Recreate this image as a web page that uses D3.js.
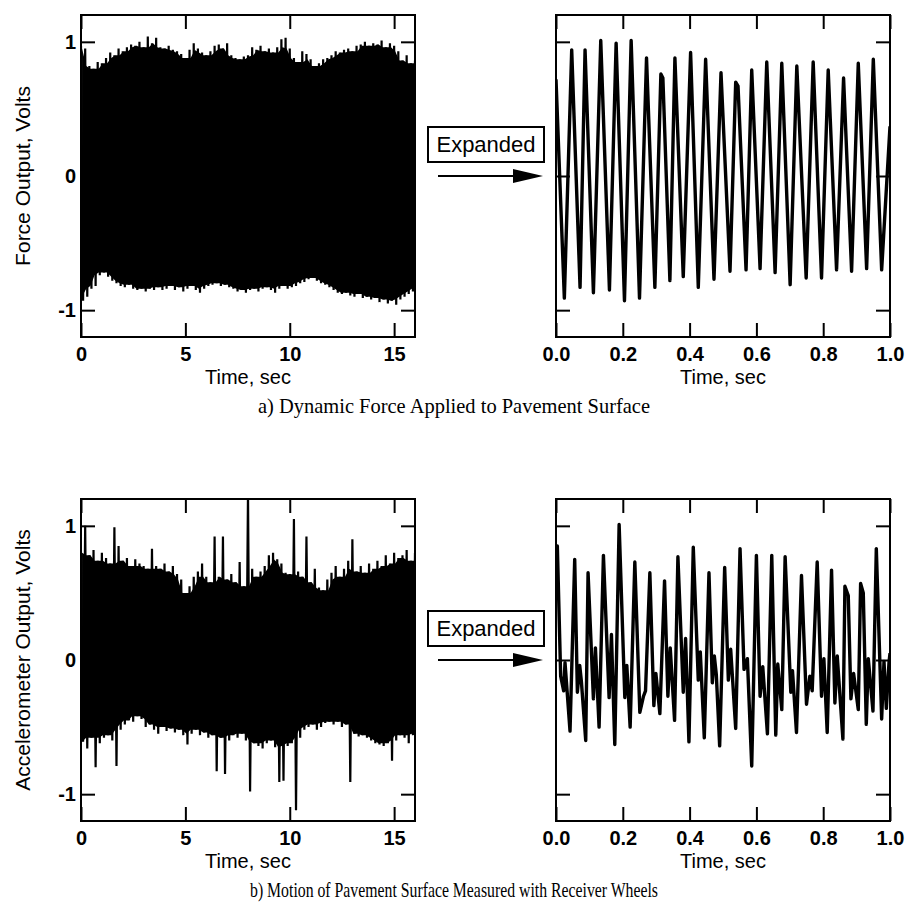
<!DOCTYPE html>
<html><head><meta charset="utf-8">
<script src="https://cdn.jsdelivr.net/npm/d3@7"></script>
<style>body{margin:0;background:#fff;} svg{display:block}</style>
</head><body><svg id="c" width="907" height="913"></svg>
<script>
// ---------- DATA ----------
// Panel a) left: envelope (max / min per 0.2 s bin) of the 16 s force record
const forceUpper = [0.97,0.95,0.82,0.80,0.85,0.84,0.88,0.92,0.90,0.95,
 0.93,0.96,0.98,0.97,1.00,0.96,1.04,0.99,1.03,0.96,
 0.95,0.97,0.94,0.93,0.91,0.88,0.94,0.99,0.95,0.92,
 0.90,0.93,0.97,0.98,0.95,0.99,0.90,0.88,0.87,0.89,
 0.90,0.96,0.94,0.97,0.93,0.95,0.92,0.96,1.02,1.03,
 0.95,0.88,0.85,0.93,0.91,0.87,0.82,0.84,0.87,0.88,
 0.90,0.93,0.92,0.94,0.95,0.93,0.97,0.98,1.00,0.97,
 0.99,0.98,1.01,0.96,0.99,0.97,0.93,0.86,0.90,0.84,
 0.86];
const forceLower = [-0.93,-0.90,-0.84,-0.82,-0.74,-0.72,-0.75,-0.78,-0.80,-0.82,
 -0.83,-0.81,-0.84,-0.85,-0.84,-0.86,-0.84,-0.85,-0.83,-0.85,
 -0.84,-0.82,-0.85,-0.83,-0.86,-0.84,-0.82,-0.85,-0.87,-0.84,
 -0.82,-0.81,-0.80,-0.82,-0.81,-0.83,-0.84,-0.86,-0.85,-0.87,
 -0.85,-0.84,-0.86,-0.84,-0.83,-0.85,-0.87,-0.84,-0.82,-0.84,
 -0.83,-0.82,-0.80,-0.79,-0.77,-0.76,-0.78,-0.80,-0.81,-0.83,
 -0.85,-0.87,-0.88,-0.87,-0.89,-0.90,-0.88,-0.91,-0.90,-0.92,
 -0.91,-0.94,-0.92,-0.95,-0.93,-0.96,-0.92,-0.90,-0.88,-0.86,
 -0.84];
// Panel a) right: expanded first second (peaks / troughs)
const forceExpT = [0.000,0.025,0.047,0.072,0.087,0.112,0.134,0.160,0.180,0.205,
 0.225,0.250,0.271,0.296,0.314,0.320,0.341,0.356,0.381,0.403,
 0.426,0.448,0.473,0.494,0.521,0.538,0.545,0.569,0.586,0.611,
 0.631,0.656,0.676,0.701,0.721,0.749,0.770,0.795,0.815,0.840,
 0.861,0.885,0.905,0.930,0.950,0.975,1.000];
const forceExpV = [0.72,-0.91,0.94,-0.83,0.94,-0.87,1.01,-0.85,0.99,-0.93,
 1.01,-0.91,0.88,-0.83,0.76,0.73,-0.78,0.88,-0.75,0.92,
 -0.83,0.87,-0.77,0.77,-0.71,0.70,0.67,-0.70,0.79,-0.69,
 0.85,-0.72,0.84,-0.81,0.82,-0.76,0.85,-0.76,0.79,-0.70,
 0.73,-0.71,0.84,-0.69,0.87,-0.70,0.37];
// Panel b) left: envelope of the 16 s accelerometer record
const accelUpper = [0.80,1.00,0.78,0.82,0.74,0.80,0.76,0.72,0.99,0.85,
 0.74,0.76,0.70,0.75,0.72,0.70,0.68,0.83,0.70,0.68,
 0.72,0.66,0.70,0.64,0.60,0.50,0.55,0.62,0.66,0.72,
 0.62,0.58,0.92,0.62,0.92,0.60,0.64,0.58,0.73,0.55,
 1.25,0.68,0.62,0.66,0.70,0.78,0.80,0.75,0.72,0.65,
 0.64,1.05,0.66,0.62,0.92,0.58,0.68,0.54,0.52,0.60,
 0.65,0.70,0.62,0.68,0.74,0.90,0.66,0.70,0.65,0.72,
 0.68,0.74,0.70,0.78,0.72,0.80,0.76,0.78,0.82,0.74,
 0.80];
const accelLower = [-0.61,-0.66,-0.58,-0.80,-0.62,-0.58,-0.56,-0.60,-0.79,-0.52,
 -0.48,-0.45,-0.46,-0.42,-0.44,-0.50,-0.48,-0.52,-0.55,-0.50,
 -0.53,-0.51,-0.54,-0.52,-0.56,-0.63,-0.55,-0.52,-0.56,-0.54,
 -0.58,-0.56,-0.83,-0.58,-0.85,-0.60,-0.56,-0.58,-0.55,-0.60,
 -0.98,-0.62,-0.64,-0.66,-0.62,-0.60,-0.65,-0.91,-0.90,-0.64,
 -0.62,-1.12,-0.58,-0.52,-0.50,-0.48,-0.52,-0.50,-0.47,-0.46,
 -0.48,-0.46,-0.50,-0.48,-0.91,-0.55,-0.57,-0.56,-0.58,-0.60,
 -0.62,-0.63,-0.64,-0.62,-0.75,-0.60,-0.56,-0.58,-0.62,-0.56,
 -0.55];
// Panel b) right: expanded first second
const accelExpT = [0.000,0.004,0.014,0.023,0.027,0.042,0.056,0.064,0.071,0.076,
 0.089,0.096,0.112,0.118,0.129,0.142,0.159,0.166,0.176,0.189,
 0.206,0.212,0.222,0.236,0.251,0.262,0.268,0.281,0.293,0.299,
 0.311,0.325,0.335,0.342,0.355,0.365,0.381,0.388,0.398,0.411,
 0.426,0.432,0.444,0.458,0.468,0.474,0.480,0.490,0.505,0.516,
 0.523,0.538,0.551,0.563,0.573,0.586,0.600,0.611,0.619,0.633,
 0.646,0.658,0.664,0.676,0.686,0.703,0.708,0.720,0.735,0.750,
 0.760,0.767,0.782,0.795,0.802,0.812,0.825,0.835,0.842,0.859,
 0.865,0.875,0.883,0.891,0.905,0.912,0.920,0.929,0.935,0.949,
 0.959,0.975,0.982,0.989,0.997,1.000];
const accelExpV = [0.60,0.85,-0.12,-0.23,-0.02,-0.53,0.75,-0.24,-0.04,-0.16,
 -0.60,0.65,-0.29,0.09,-0.50,0.78,-0.28,0.19,-0.63,1.01,
 -0.28,-0.04,-0.50,0.73,-0.39,-0.27,-0.23,0.65,-0.34,-0.10,
 -0.40,0.59,-0.27,0.09,-0.45,0.77,-0.24,0.16,-0.61,0.84,
 -0.15,0.06,-0.58,0.65,-0.17,0.03,-0.11,-0.64,0.69,-0.15,
 0.08,-0.51,0.83,-0.07,0.01,-0.79,0.78,-0.27,-0.05,-0.55,
 0.78,-0.56,-0.03,-0.37,0.77,-0.24,-0.08,-0.54,0.63,-0.33,
 -0.12,-0.23,0.73,-0.27,0.01,-0.54,0.67,-0.32,0.03,-0.59,
 0.55,0.48,-0.29,-0.10,-0.37,0.57,0.50,-0.48,0.01,-0.38,
 0.83,-0.44,-0.01,-0.36,-0.02,0.05];

// Ticks and labels
const longTicks = [0, 5, 10, 15];
const longTickLabels = ["0", "5", "10", "15"];
const expTicks = [0, 0.2, 0.4, 0.6, 0.8, 1.0];
const expTickLabels = ["0.0", "0.2", "0.4", "0.6", "0.8", "1.0"];
const yTicks = [-1, 0, 1];
const yTickLabels = ["-1", "0", "1"];
const xTitle = "Time, sec";
const yTitles = ["Force Output, Volts", "Accelerometer Output, Volts"];
const captions = ["a) Dynamic Force Applied to Pavement Surface",
                  "b) Motion of Pavement Surface Measured with Receiver Wheels"];
const boxLabel = "Expanded";

// ---------- DRAWING ----------
const svg = d3.select("#c");
const SANS = "'Liberation Sans', Arial, Helvetica, sans-serif";
const SERIF = "'Liberation Serif', 'Times New Roman', serif";

const colL = [81, 415], colR = [556, 890];
const rows = [[15, 337], [499, 821]];
const captionWidths = [392, 408];

function drawPanel(id, cols, rowY, xDomain, xTicks, xLabels, showYLabels, yTitle, drawData) {
  const x = d3.scaleLinear().domain(xDomain).range(cols);
  const y = d3.scaleLinear().domain([-1.2, 1.2]).range([rowY[1], rowY[0]]);
  const g = svg.append("g");
  svg.append("clipPath").attr("id", id).append("rect")
    .attr("x", cols[0]).attr("y", rowY[0])
    .attr("width", cols[1] - cols[0]).attr("height", rowY[1] - rowY[0]);
  const dg = g.append("g").attr("clip-path", `url(#${id})`);
  drawData(dg, x, y);

  const style = sel => {
    sel.select(".domain").remove();
    sel.selectAll(".tick line").attr("stroke", "#000").attr("stroke-width", 2);
    sel.selectAll(".tick text").attr("fill", "#000")
      .style("font-family", SANS).style("font-size", "20px").style("font-weight", "bold");
  };
  g.append("g").attr("transform", `translate(0,${rowY[1]})`)
    .call(d3.axisBottom(x).tickValues(xTicks).tickFormat((d, i) => xLabels[i])
      .tickSizeInner(-14).tickSizeOuter(0).tickPadding(10)).call(style);
  g.append("g").attr("transform", `translate(0,${rowY[0]})`)
    .call(d3.axisTop(x).tickValues(xTicks).tickFormat("")
      .tickSizeInner(-14).tickSizeOuter(0)).call(style);
  g.append("g").attr("transform", `translate(${cols[0]},0)`)
    .call(d3.axisLeft(y).tickValues(yTicks).tickFormat((d, i) => showYLabels ? yTickLabels[i] : "")
      .tickSizeInner(-14).tickSizeOuter(0).tickPadding(5)).call(style);
  g.append("g").attr("transform", `translate(${cols[1]},0)`)
    .call(d3.axisRight(y).tickValues(yTicks).tickFormat("")
      .tickSizeInner(-14).tickSizeOuter(0)).call(style);

  g.append("rect").attr("x", cols[0]).attr("y", rowY[0])
    .attr("width", cols[1] - cols[0]).attr("height", rowY[1] - rowY[0])
    .attr("fill", "none").attr("stroke", "#000").attr("stroke-width", 2);

  g.append("text").attr("x", (cols[0] + cols[1]) / 2).attr("y", rowY[1] + 47)
    .attr("text-anchor", "middle").style("font-family", SANS).style("font-size", "20px")
    .text(xTitle);
  if (yTitle) {
    const cy = y(0);
    g.append("text").attr("transform", `translate(23,${cy}) rotate(-90)`)
      .attr("text-anchor", "middle").attr("dy", "0.35em")
      .style("font-family", SANS).style("font-size", "21px").text(yTitle);
  }
  return {x, y};
}

function envelopeDrawer(upper, lower) {
  return (g, x, y) => {
    const n = upper.length;
    const step = 16 / (n - 1);
    // solid core: the lowest nearby maximum / highest nearby minimum
    const core = upper.map((u, i) => {
      const a = Math.max(0, i - 1), b = Math.min(n - 1, i + 1);
      return [i * step + step / 4,
              Math.min(upper[a], upper[i], upper[b]),
              Math.max(lower[a], lower[i], lower[b])];
    });
    g.append("path").datum(core)
      .attr("d", d3.area().x(d => x(d[0])).y0(d => y(d[2])).y1(d => y(d[1])))
      .attr("fill", "#000");
    const pts = [];
    upper.forEach((u, i) => {
      pts.push([i * step, u]);
      pts.push([i * step + step / 2, lower[i]]);
    });
    g.append("path").datum(pts)
      .attr("d", d3.line().x(d => x(d[0])).y(d => y(d[1])))
      .attr("fill", "none").attr("stroke", "#000").attr("stroke-width", 2.2)
      .attr("stroke-linejoin", "miter").attr("stroke-miterlimit", 2);
  };
}
function traceDrawer(ts, vs) {
  return (g, x, y) => {
    g.append("path").datum(ts.map((t, i) => [t, vs[i]]))
      .attr("d", d3.line().x(d => x(d[0])).y(d => y(d[1])))
      .attr("fill", "none").attr("stroke", "#000").attr("stroke-width", 3.4)
      .attr("stroke-linejoin", "round");
  };
}

const panels = [
  [envelopeDrawer(forceUpper, forceLower), traceDrawer(forceExpT, forceExpV)],
  [envelopeDrawer(accelUpper, accelLower), traceDrawer(accelExpT, accelExpV)]
];

panels.forEach((p, r) => {
  const rowY = rows[r];
  drawPanel(`clipL${r}`, colL, rowY, [0, 16], longTicks, longTickLabels, true, yTitles[r], p[0]);
  const {y} = drawPanel(`clipR${r}`, colR, rowY, [0, 1], expTicks, expTickLabels, false, null, p[1]);
  const y0 = y(0);
  // "Expanded" box and arrow
  svg.append("rect").attr("x", 428).attr("y", y0 - 49).attr("width", 116).attr("height", 35)
    .attr("fill", "#fff").attr("stroke", "#000").attr("stroke-width", 2);
  svg.append("text").attr("x", 486).attr("y", y0 - 24).attr("text-anchor", "middle")
    .style("font-family", SANS).style("font-size", "22px").text(boxLabel);
  svg.append("line").attr("x1", 438).attr("x2", 516).attr("y1", y0).attr("y2", y0)
    .attr("stroke", "#000").attr("stroke-width", 2);
  svg.append("path").attr("d", `M513,${y0 - 7}L543,${y0}L513,${y0 + 7}Z`).attr("fill", "#000");
  // caption
  svg.append("text").attr("x", 454).attr("y", rowY[1] + 76).attr("text-anchor", "middle")
    .attr("textLength", captionWidths[r]).attr("lengthAdjust", "spacingAndGlyphs")
    .style("font-family", SERIF).style("font-size", "21px").text(captions[r]);
});
</script></body></html>
